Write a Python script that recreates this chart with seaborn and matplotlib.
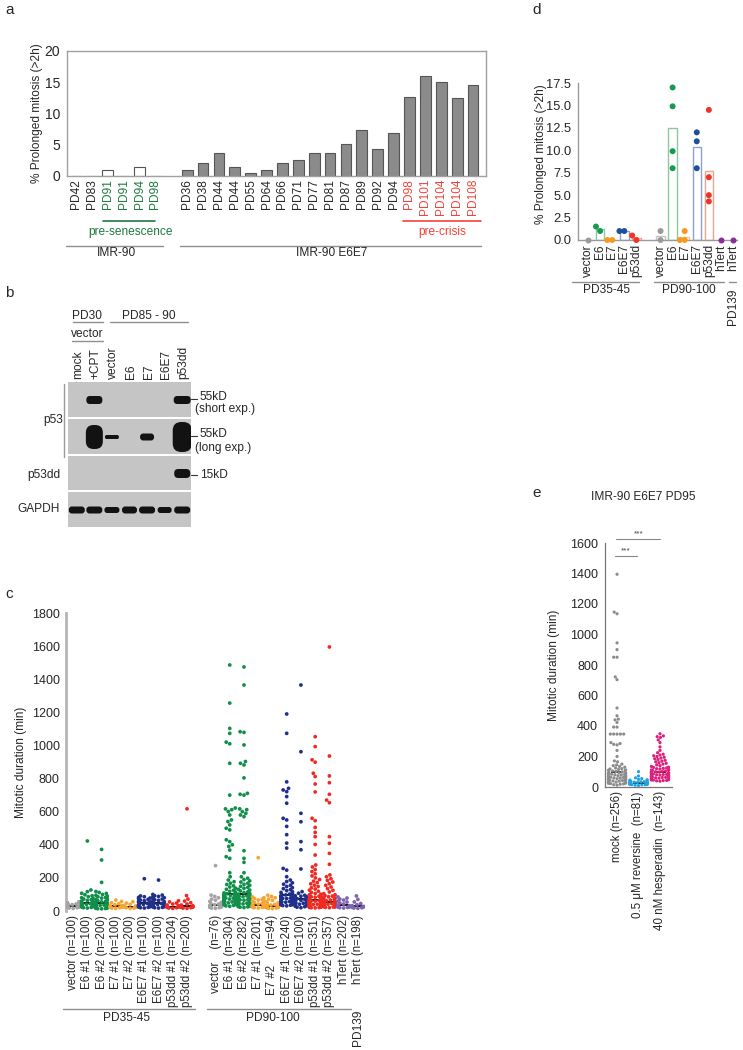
import warnings
warnings.filterwarnings("ignore")
import numpy as np
import pandas as pd
import matplotlib
matplotlib.use("Agg")
import matplotlib.pyplot as plt
from matplotlib.lines import Line2D
from matplotlib.patches import FancyBboxPatch, Rectangle
import seaborn as sns

# ======================= DATA =======================
# ---- panel a ----
a_imr_labels = ["PD42", "PD83", "PD91", "PD91", "PD94", "PD98"]
a_imr_values = [0.0, 0.0, 1.0, 0.0, 1.4, 0.0]
a_imr_stage = ["", "", "pre-senescence", "pre-senescence", "pre-senescence", "pre-senescence"]
a_e6e7_labels = ["PD36", "PD38", "PD44", "PD44", "PD55", "PD64", "PD66", "PD71", "PD77", "PD81",
                 "PD87", "PD89", "PD92", "PD94", "PD98", "PD101", "PD104", "PD104", "PD108"]
a_e6e7_values = [1.0, 2.0, 3.6, 1.5, 0.4, 0.9, 2.0, 2.5, 3.6, 3.6,
                 5.1, 7.4, 4.3, 6.8, 12.6, 16.0, 15.1, 12.5, 14.5]
a_e6e7_stage = [""] * 14 + ["pre-crisis"] * 5
a_yticks = [0, 5, 10, 15, 20]

# ---- panel b (western blot, band strength per row x lane) ----
b_lanes = ["mock", "+CPT", "vector", "E6", "E7", "E6E7", "p53dd"]
b_rows = ["p53 short", "p53 long", "p53dd", "GAPDH"]
b_band_height = [[0, 8, 0, 0, 0, 0, 8],
                 [0, 24, 4, 0, 7, 0, 30],
                 [0, 0, 0, 0, 0, 0, 9],
                 [7, 7, 6, 7, 7, 6, 7]]
b_band_width = [[0, 16, 0, 0, 0, 0, 17],
                [0, 17, 14, 0, 14, 0, 19],
                [0, 0, 0, 0, 0, 0, 16],
                [16, 16, 15, 15, 16, 14, 16]]

# ---- panel c ----
c_lo_conditions = ["vector", "E6 #1", "E6 #2", "E7 #1", "E7 #2", "E6E7 #1", "E6E7 #2", "p53dd #1", "p53dd #2"]
c_lo_ticklabels = ["vector (n=100)", "E6 #1 (n=100)", "E6 #2 (n=200)", "E7 #1 (n=100)", "E7 #2 (n=200)",
                   "E6E7 #1 (n=100)", "E6E7 #2 (n=100)", "p53dd #1 (n=204)", "p53dd #2 (n=200)"]
c_lo_vector = [56, 50, 46, 42, 40, 38, 36, 34, 32, 31, 30, 30, 29, 28, 27, 26, 25, 24, 22, 20, 18, 16]
c_lo_E6_1 = [423, 127, 117, 107, 98, 92, 86, 80, 76, 72, 68, 64, 60, 57, 54, 51, 48, 46, 44, 42,
             40, 38, 36, 34, 32, 30, 28, 26, 24, 22, 20, 18]
c_lo_E6_2 = [372, 308, 173, 118, 112, 106, 100, 95, 90, 86, 82, 78, 74, 70, 66, 62, 58, 55, 52, 48,
             44, 42, 40, 38, 36, 35, 34, 32, 30, 28, 26, 25, 24, 22, 20, 18, 16, 15, 14, 13]
c_lo_E7_1 = [66, 58, 50, 44, 38, 33, 30, 28, 26, 25, 24, 22, 20, 18, 16]
c_lo_E7_2 = [56, 48, 40, 34, 30, 28, 26, 25, 24, 22, 20, 18, 16]
c_lo_E6E7_1 = [195, 91, 86, 82, 78, 74, 70, 66, 62, 58, 55, 52, 49, 46, 43, 40, 38, 36, 34, 32,
               30, 28, 26, 24, 22, 20, 18]
c_lo_E6E7_2 = [187, 100, 96, 92, 88, 84, 80, 76, 72, 68, 64, 60, 56, 52, 48, 45, 42, 40, 38, 36,
               34, 32, 30, 28, 26, 24, 22, 20, 18]
c_lo_p53dd_1 = [62, 55, 48, 42, 36, 32, 29, 27, 26, 25, 24, 22, 20, 18, 16]
c_lo_p53dd_2 = [617, 93, 72, 60, 50, 42, 36, 32, 29, 27, 26, 25, 24, 22, 20, 18, 16]

c_hi_conditions = ["vector", "E6 #1", "E6 #2", "E7 #1", "E7 #2", "E6E7 #1", "E6E7 #2", "p53dd #1", "p53dd #2", "hTert"]
c_hi_ticklabels = ["vector    (n=76)", "E6 #1 (n=304)", "E6 #2 (n=282)", "E7 #1 (n=201)", "E7 #2     (n=94)",
                   "E6E7 #1 (n=240)", "E6E7 #2 (n=100)", "p53dd #1 (n=351)", "p53dd #2 (n=357)", "hTert (n=202)"]
c_hi_vector = [274, 96, 88, 80, 72, 65, 58, 52, 46, 42, 38, 36, 34, 33, 32, 30, 28, 26, 24, 22, 20, 18, 16]
c_hi_E6_1 = [1486, 1256, 1103, 1073, 1020, 1010, 892, 700, 622, 617, 612, 601, 580, 550, 540, 520, 500, 490,
             430, 419, 400, 390, 368, 328, 318, 231, 207, 187, 177,
             168, 160, 152, 145, 138, 131, 125, 119, 114, 109, 104,
             100, 99, 97, 96, 94, 93, 91, 90, 88, 87, 85, 84, 82, 81, 79, 78, 76, 75, 73, 72,
             70, 69, 67, 66, 64, 63, 61, 60, 58, 57, 55, 52, 49, 46, 43, 40, 37, 34, 31, 28]
c_hi_E6_2 = [1474, 1365, 1083, 1079, 1003, 903, 892, 882, 804, 711, 705, 700, 617, 612, 600, 590, 580, 570,
             364, 318, 294, 231, 207,
             198, 190, 182, 175, 168, 161, 155, 149, 143, 137, 131, 126, 121, 116, 111, 106, 102,
             99, 97, 95, 93, 91, 89, 87, 85, 83, 81, 79, 77, 75, 73, 71, 69, 67, 65, 63, 61,
             59, 57, 55, 53, 51, 49, 47, 45, 43, 41, 39, 37, 35, 33, 31, 29, 27, 25, 23, 21]
c_hi_E7_1 = [322, 85, 80, 75, 70, 66, 62, 58, 54, 50, 46, 42, 38, 35, 32, 30, 29, 28, 27, 26, 25, 24, 22, 20, 18]
c_hi_E7_2 = [95, 88, 80, 72, 64, 56, 50, 44, 40, 36, 33, 31, 30, 29, 28, 27, 26, 25, 24, 23, 22, 20, 18, 16, 15]
c_hi_E6E7_1 = [1190, 1073, 780, 741, 731, 721, 691, 651, 560, 550, 511, 461, 410, 380, 257, 247, 207,
               187, 178, 170, 162, 155, 148, 141, 135, 129, 123, 117, 112, 107, 102,
               99, 97, 95, 93, 91, 89, 87, 85, 83, 81, 79, 77, 75, 73, 71, 69, 67, 65, 63, 61,
               59, 57, 55, 53, 51, 49, 47, 45, 43, 41, 39, 37, 35, 33, 31]
c_hi_E6E7_2 = [1365, 962, 590, 539, 419, 370, 254, 117, 107,
               95, 92, 89, 86, 83, 80, 77, 74, 71, 68, 65, 62, 59, 56, 53, 50, 47, 44, 41, 38, 35, 32, 29, 26, 23, 20]
c_hi_p53dd_1 = [1053, 993, 913, 899, 832, 812, 767, 719, 560, 546, 505, 475, 449, 402, 338, 278, 266, 250,
                238, 225, 212, 200,
                190, 180, 172, 164, 156, 148, 140, 133, 126, 119, 112, 106, 101,
                98, 95, 92, 89, 86, 83, 80, 77, 74, 71, 68, 66, 65, 64, 63, 62, 61, 60, 59, 58, 57, 56,
                55, 54, 53, 52, 51, 50, 49, 48, 47, 46, 45, 44, 43, 42, 41, 40, 39, 38, 37, 36, 35, 34,
                33, 32, 31, 30, 29, 28, 27, 26, 25, 24, 23, 22, 21, 20, 19]
c_hi_p53dd_2 = [1595, 936, 816, 775, 705, 670, 654, 449, 409, 348, 282, 218, 207,
                195, 185, 175, 165, 155, 145, 135, 125, 115, 105,
                98, 94, 90, 86, 82, 78, 74, 70, 66, 62, 58, 57, 56, 55, 54, 53, 52, 51, 50, 49, 48, 47,
                46, 45, 44, 43, 42, 41, 40, 39, 38, 37, 36, 35, 34, 33, 32, 31, 30, 29, 28, 27, 26, 25, 24, 22, 20]
c_hi_hTert = [85, 78, 72, 66, 60, 54, 48, 42, 36, 32, 28, 26, 25, 24, 22, 20, 18]

c_x_conditions = ["hTert"]
c_x_ticklabels = ["hTert (n=198)"]
c_x_hTert = [91, 70, 55, 45, 38, 32, 28, 26, 24, 22, 20, 18, 16]
c_yticks = [0, 200, 400, 600, 800, 1000, 1200, 1400, 1600, 1800]

# ---- panel d ----
d_lo_conditions = ["vector", "E6", "E7", "E6E7", "p53dd"]
d_lo_values = [[0.0], [1.0, 1.5], [0.0, 0.0], [1.0, 1.0], [0.0, 0.5]]
d_hi_conditions = ["vector", "E6", "E7", "E6E7", "p53dd", "hTert"]
d_hi_values = [[1.0, 0.0], [17.0, 14.9, 9.9, 8.0], [1.0, 0.0, 0.0], [12.0, 11.0, 8.0],
               [14.5, 7.0, 5.0, 4.3], [0.0]]
d_x_conditions = ["hTert"]
d_x_values = [[0.0]]
d_yticks = [0, 2.5, 5, 7.5, 10, 12.5, 15, 17.5]

# ---- panel e ----
e_conditions = ["mock", "reversine", "hesperadin"]
e_ticklabels = ["mock (n=256)", "0.5 \u03bcM reversine  (n=81)", "40 nM hesperadin  (n=143)"]
e_mock = [1395, 1147, 1136, 945, 901, 851, 851, 722, 704, 518, 467, 445, 440, 423, 393, 393,
          347, 347, 347, 347, 347, 291, 285, 280, 276, 240, 200, 171, 165, 150, 145, 140,
          135, 130, 125, 120, 118, 115, 112, 110, 108, 105, 102,
          98, 96, 94, 92, 90, 88, 86, 84, 82, 80, 78, 76, 74, 72, 70, 68, 66, 64, 62, 60,
          58, 56, 54, 52, 50, 48, 46, 44, 42, 40, 38, 36, 34, 32, 30, 28, 26, 24, 22, 20, 18, 15, 12]
e_reversine = [101, 72, 60, 55, 50, 48, 45, 42, 40, 38, 36, 35, 34, 32, 30, 30, 28, 27, 26, 25, 25,
               24, 23, 22, 21, 20, 20, 19, 18, 17, 16, 15, 14, 12, 10]
e_hesperadin = [349, 335, 330, 325, 309, 291, 263, 240, 225, 215, 210, 205, 200, 195, 190, 185, 180,
                175, 170, 165, 160, 155, 150, 145, 140, 135, 130, 128, 125, 122, 120, 118, 115, 112,
                110, 108, 105, 102,
                100, 98, 96, 95, 93, 92, 90, 88, 86, 85, 83, 82, 80, 78, 76, 75, 73, 72, 70, 68,
                66, 65, 63, 62, 60, 58, 56, 55, 53, 52, 50, 48, 46, 45, 43, 42, 40, 38]
e_yticks = [0, 200, 400, 600, 800, 1000, 1200, 1400, 1600]

# ======================= STYLE =======================
sns.set_style("white")
plt.rcParams["font.family"] = ["Liberation Sans", "DejaVu Sans"]
plt.rcParams["axes.linewidth"] = 1.0

GREEN_TXT = "#1d7a3e"
RED_TXT = "#f2433a"
LINE_GRAY = "#8f8f8f"
FS = 8.6

c_colors = {"vector": "#a4a4a4", "E6": "#0f8f4a", "E7": "#f7a532", "E6E7": "#1e2f8c",
            "p53dd": "#ee2b23", "hTert": "#7e63b0"}
d_dot_colors = {"vector": "#9a9a9a", "E6": "#159a52", "E7": "#f59a1e", "E6E7": "#1f4e9a",
                "p53dd": "#ee3424", "hTert": "#8c2c9a"}
d_bar_colors = {"vector": "#c4c4c4", "E6": "#8cc7a0", "E7": "#f8c88a", "E6E7": "#8ea0cc",
                "p53dd": "#f4a08f", "hTert": "#d0a8d8"}
e_colors = {"mock": "#8c8c8c", "reversine": "#1fa3e0", "hesperadin": "#e01e7c"}

fig = plt.figure(figsize=(7.43, 10.5), dpi=100)
W, H = 743.0, 1050.0


def fx(x):
    return x / W


def fy(y):
    return 1 - y / H


def rect(l, t, r, b):
    return [fx(l), fy(b), (r - l) / W, (b - t) / H]


def ftext(x, y, s, **kw):
    kw.setdefault("ha", "center")
    kw.setdefault("va", "center")
    kw.setdefault("fontsize", FS)
    fig.text(fx(x), fy(y), s, **kw)


def fline(x0, y0, x1, y1, color=LINE_GRAY, lw=1.0):
    fig.add_artist(Line2D([fx(x0), fx(x1)], [fy(y0), fy(y1)], color=color, lw=lw,
                          transform=fig.transFigure))


# panel letters
for letter, (px, py) in {"a": (5, 10), "b": (5, 293), "c": (5, 594), "d": (532, 10), "e": (532, 493)}.items():
    ftext(px, py, letter, ha="left", fontsize=11)

# ======================= PANEL a =======================
axA = fig.add_axes(rect(67, 51, 486, 176))
a_keys = [f"imr{i}" for i in range(len(a_imr_labels))] + [f"e6e7_{i}" for i in range(len(a_e6e7_labels))]
df_a = pd.DataFrame({"key": a_keys, "value": a_imr_values + a_e6e7_values,
                     "line": ["IMR-90"] * len(a_imr_labels) + ["IMR-90 E6E7"] * len(a_e6e7_labels)})
a_order = a_keys[:len(a_imr_labels)] + ["gap"] + a_keys[len(a_imr_labels):]
sns.barplot(data=df_a, x="key", y="value", order=a_order, hue="line",
            palette={"IMR-90": "white", "IMR-90 E6E7": "#8b8b8b"}, dodge=False, width=0.68,
            edgecolor="#555555", linewidth=0.8, errorbar=None, saturation=1, legend=False, ax=axA)
axA.set_xlim(-0.57, len(a_order) - 1 + 0.82)
axA.set_ylim(0, 20)
axA.set_yticks(a_yticks)
axA.set_yticklabels([str(t) for t in a_yticks], fontsize=10)
a_ticklabels = a_imr_labels + [""] + a_e6e7_labels
a_stages = a_imr_stage + [""] + a_e6e7_stage
axA.set_xticks(range(len(a_order)))
axA.set_xticklabels(a_ticklabels, rotation=90, fontsize=FS)
for lab, st in zip(axA.get_xticklabels(), a_stages):
    if st == "pre-senescence":
        lab.set_color(GREEN_TXT)
    elif st == "pre-crisis":
        lab.set_color(RED_TXT)
axA.tick_params(axis="x", length=0, pad=2)
axA.tick_params(axis="y", length=3, width=0.8, color="#888888", pad=2)
for s in axA.spines.values():
    s.set_color("#a0a0a0")
axA.set_xlabel("")
axA.set_ylabel("% Prolonged mitosis (>2h)", fontsize=FS)
axA.yaxis.set_label_coords(-0.057, 0.5)

fline(103, 221, 155, 221, color=GREEN_TXT, lw=1.2)
ftext(131, 232, "pre-senescence", color=GREEN_TXT)
fline(403, 221, 481, 221, color=RED_TXT, lw=1.2)
ftext(442, 232, "pre-crisis", color=RED_TXT)
fline(66, 246, 163, 246)
ftext(116, 253, "IMR-90")
fline(180, 246, 481, 246)
ftext(332, 253, "IMR-90 E6E7")

# ======================= PANEL b =======================
axB = fig.add_axes(rect(68, 382, 191, 527))
axB.set_xlim(68, 191)
axB.set_ylim(527, 382)
axB.axis("off")
row_top = [382, 419, 456, 492]
row_bot = [417, 454, 490, 527]
lane_w = 123 / len(b_lanes)
for r in range(len(b_rows)):
    axB.add_patch(Rectangle((68, row_top[r]), 123, row_bot[r] - row_top[r], fc="#c5c5c5", ec="none"))
    yc = (row_top[r] + row_bot[r]) / 2 + 0.5
    for i in range(len(b_lanes)):
        h = b_band_height[r][i]
        w = b_band_width[r][i]
        if h <= 0:
            continue
        xc = 68 + (i + 0.5) * lane_w
        axB.add_patch(FancyBboxPatch((xc - w / 2, yc - h / 2), w, h,
                                     boxstyle=f"round,pad=0,rounding_size={min(w, h) * 0.45}",
                                     fc="#121212", ec="none"))
ftext(87, 316, "PD30")
ftext(149, 316, "PD85 - 90")
fline(73, 322, 103, 322)
fline(110, 322, 188, 322)
ftext(87, 334, "vector")
fline(72, 341, 103, 341)
for i, lane in enumerate(b_lanes):
    ftext(68 + (i + 0.5) * lane_w + 1.5, 379, lane, rotation=90, va="bottom")
ftext(53, 420, "p53")
fline(64, 384, 64, 457, color="#9a9a9a")
ftext(44, 475, "p53dd")
ftext(39, 509, "GAPDH")
for yy in (399, 436, 475):
    fline(191, yy, 197, yy, color="#333333", lw=0.8)
ftext(200, 397, "55kD", ha="left")
ftext(195, 409, "(short exp.)", ha="left")
ftext(200, 434, "55kD", ha="left")
ftext(195, 448, "(long exp.)", ha="left")
ftext(200, 475, "15kD", ha="left")

# ======================= PANEL c =======================
axC = fig.add_axes(rect(66, 613, 365, 911))
c_lo_values = [c_lo_vector, c_lo_E6_1, c_lo_E6_2, c_lo_E7_1, c_lo_E7_2, c_lo_E6E7_1, c_lo_E6E7_2,
               c_lo_p53dd_1, c_lo_p53dd_2]
c_hi_values = [c_hi_vector, c_hi_E6_1, c_hi_E6_2, c_hi_E7_1, c_hi_E7_2, c_hi_E6E7_1, c_hi_E6E7_2,
               c_hi_p53dd_1, c_hi_p53dd_2, c_hi_hTert]
c_x_values = [c_x_hTert]
rows = []
c_order = []
for grp, conds, vals in (("PD35-45", c_lo_conditions, c_lo_values),
                         ("PD90-100", c_hi_conditions, c_hi_values),
                         ("PD139", c_x_conditions, c_x_values)):
    for cond, v in zip(conds, vals):
        key = f"{grp}|{cond}"
        c_order.append(key)
        for val in v:
            rows.append({"key": key, "value": val, "construct": cond.split(" #")[0]})
    if grp == "PD35-45":
        c_order.append("gap")
df_c = pd.DataFrame(rows)
sns.swarmplot(data=df_c, x="key", y="value", order=c_order, hue="construct", palette=c_colors,
              size=2.7, linewidth=0, legend=False, ax=axC)
sns.pointplot(data=df_c, x="key", y="value", order=c_order, estimator="median", errorbar=None,
              color="black", marker="_", linestyle="none", markersize=9, markeredgewidth=1.3, ax=axC)
axC.set_xlim(-0.5, len(c_order) - 0.5)
axC.set_ylim(0, 1800)
axC.set_yticks(c_yticks)
axC.set_yticklabels([str(t) for t in c_yticks], fontsize=9)
c_ticklabels = c_lo_ticklabels + [""] + c_hi_ticklabels + c_x_ticklabels
axC.set_xticks(range(len(c_order)))
axC.set_xticklabels(c_ticklabels, rotation=90, fontsize=8.3)
axC.tick_params(axis="x", length=0, pad=3)
axC.tick_params(axis="y", length=2.5, width=0.8, color="#999999", pad=2)
for side in ("top", "right", "bottom"):
    axC.spines[side].set_visible(False)
axC.spines["left"].set_color("#b5b5b5")
axC.spines["left"].set_linewidth(2.0)
axC.set_xlabel("")
axC.set_ylabel("Mitotic duration (min)", fontsize=FS)
axC.yaxis.set_label_coords(-0.130, 0.5)
fline(63, 1009, 195, 1009)
ftext(127, 1018, "PD35-45")
fline(207, 1009, 351, 1009)
ftext(273, 1018, "PD90-100")
ftext(358, 1028, "PD139", rotation=90)

# ======================= PANEL d =======================
axD = fig.add_axes(rect(578, 83, 737, 240))
rows = []
d_order = []
for grp, conds, vals in (("PD35-45", d_lo_conditions, d_lo_values),
                         ("PD90-100", d_hi_conditions, d_hi_values),
                         ("PD139", d_x_conditions, d_x_values)):
    for cond, v in zip(conds, vals):
        key = f"{grp}|{cond}"
        d_order.append(key)
        for val in v:
            rows.append({"key": key, "value": val, "construct": cond})
    if grp == "PD35-45":
        d_order.append("gap")
df_d = pd.DataFrame(rows)
df_d_bars = df_d[df_d["construct"] != "hTert"]
sns.barplot(data=df_d_bars, x="key", y="value", order=d_order, hue="construct", palette=d_bar_colors,
            dodge=False, fill=False, width=0.7, linewidth=1.0, errorbar=None, legend=False, ax=axD)
sns.swarmplot(data=df_d, x="key", y="value", order=d_order, hue="construct", palette=d_dot_colors,
              size=4.3, linewidth=0, legend=False, ax=axD)
for coll in axD.collections:
    coll.set_clip_on(False)
axD.set_xlim(-0.83, len(d_order) - 1 + 0.33)
axD.set_ylim(0, 17.5)
axD.set_yticks(d_yticks)
axD.set_yticklabels([f"{t:.1f}" for t in d_yticks], fontsize=9.3)
d_ticklabels = d_lo_conditions + [""] + d_hi_conditions + d_x_conditions
axD.set_xticks(range(len(d_order)))
axD.set_xticklabels(d_ticklabels, rotation=90, fontsize=FS)
axD.tick_params(axis="x", length=0, pad=3)
axD.tick_params(axis="y", length=3, width=0.8, color="#999999", pad=2)
for side in ("top", "right"):
    axD.spines[side].set_visible(False)
for side in ("left", "bottom"):
    axD.spines[side].set_color("#9a9a9a")
axD.set_xlabel("")
axD.set_ylabel("% Prolonged mitosis (>2h)", fontsize=FS)
axD.yaxis.set_label_coords(-0.195, 0.55)
fline(572, 282, 639, 282)
ftext(606, 290, "PD35-45")
fline(654, 282, 724, 282)
ftext(689, 290, "PD90-100")
fline(729, 282, 736, 282)
ftext(733, 307, "PD139", rotation=90)

# ======================= PANEL e =======================
axE = fig.add_axes(rect(605, 543, 672, 787))
rows = []
for cond, v in zip(e_conditions, [e_mock, e_reversine, e_hesperadin]):
    for val in v:
        rows.append({"cond": cond, "value": val})
df_e = pd.DataFrame(rows)
sns.swarmplot(data=df_e, x="cond", y="value", order=e_conditions, hue="cond", palette=e_colors,
              size=2.3, linewidth=0, legend=False, ax=axE)
sns.pointplot(data=df_e, x="cond", y="value", order=e_conditions, estimator="median", errorbar=None,
              color="black", marker="_", linestyle="none", markersize=9, markeredgewidth=1.2, ax=axE)
axE.set_xlim(-0.56, 2.56)
axE.set_ylim(0, 1600)
axE.set_yticks(e_yticks)
axE.set_yticklabels([str(t) for t in e_yticks], fontsize=9)
axE.set_xticks(range(len(e_conditions)))
axE.set_xticklabels(e_ticklabels, rotation=90, fontsize=8.3)
axE.tick_params(axis="x", length=0, pad=3)
axE.tick_params(axis="y", length=3, width=0.8, color="#777777", pad=2)
for side in ("top", "right"):
    axE.spines[side].set_visible(False)
for side in ("left", "bottom"):
    axE.spines[side].set_color("#777777")
    axE.spines[side].set_linewidth(0.9)
axE.set_xlabel("")
axE.set_ylabel("Mitotic duration (min)", fontsize=FS)
axE.yaxis.set_label_coords(-0.672, 0.5)
axE.plot([0 - 0.09, 1 - 0.07], [1513, 1513], color="#888888", lw=0.8, clip_on=False)
axE.text(0.42, 1528, "***", ha="center", va="bottom", fontsize=6, color="#444444")
axE.plot([0 - 0.05, 2 + 0.0], [1625, 1625], color="#888888", lw=0.8, clip_on=False)
axE.text(1.0, 1640, "***", ha="center", va="bottom", fontsize=6, color="#444444")
ftext(643, 497, "IMR-90 E6E7 PD95")

fig.savefig("out.png", dpi=100)
